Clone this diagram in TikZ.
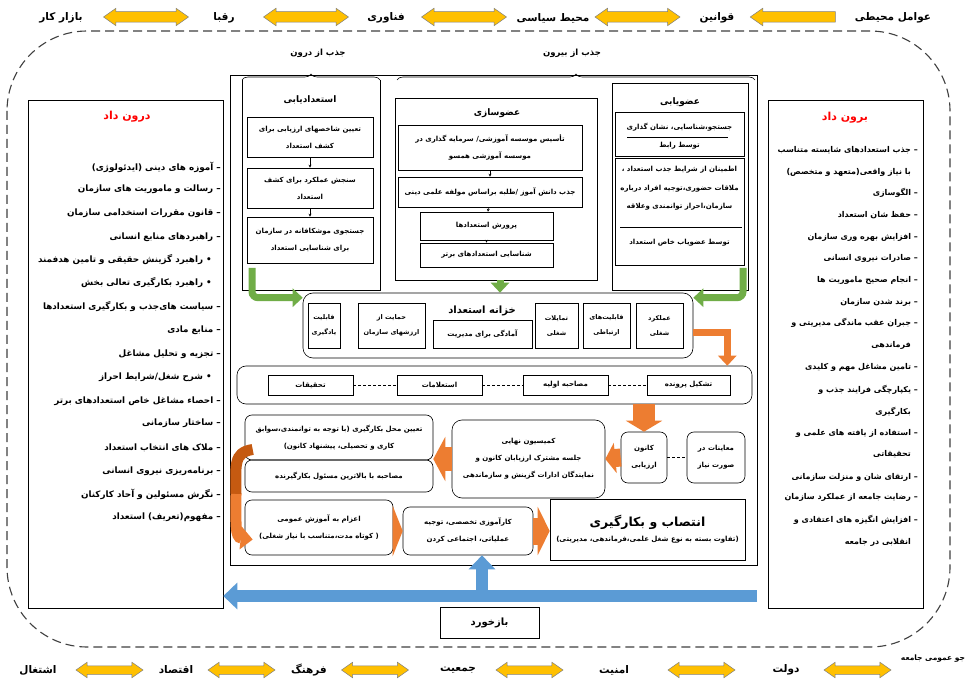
\documentclass[tikz,border=0pt]{standalone}
\usepackage{fontspec}
\newfontfamily\arabicfont[Script=Arabic]{DejaVu Sans}
\TeXXeTstate=1
\usetikzlibrary{shapes}
\usetikzlibrary{shapes.arrows}
\usetikzlibrary{arrows.meta}
\usetikzlibrary{decorations.pathreplacing}

\definecolor{gold}{HTML}{FFC000}
\definecolor{leafgreen}{HTML}{70AD47}
\definecolor{tangerine}{HTML}{ED7D31}
\definecolor{rust}{HTML}{C55A11}
\definecolor{skyblue}{HTML}{5B9BD5}
\definecolor{titlered}{HTML}{FF0000}
\definecolor{dashgray}{HTML}{404040}

\newcommand{\fa}[1]{{\arabicfont\bfseries\beginR #1\endR}}

\tikzset{
	box/.style={draw,line width=0.6pt,inner sep=0pt,align=center,font=\fontsize{7}{17}\selectfont},
	rbox/.style={box,rounded corners=7pt},
	txt/.style={inner sep=0pt,align=center,font=\fontsize{7}{18.5}\selectfont},
	item/.style={anchor=east,inner sep=0pt,font=\fontsize{8.8}{10}\selectfont},
	outitem/.style={item,font=\fontsize{8}{10}\selectfont},
	envtext/.style={inner sep=0pt,font=\fontsize{10.5}{12}\selectfont},
	envarrow/.style={double arrow,draw=gray,fill=gold,line width=0.5pt,inner xsep=0pt,inner ysep=5pt,minimum height=85pt,minimum width=17pt,double arrow head extend=3.5pt,double arrow tip angle=70},
	leftarrow/.style={single arrow,draw=gray,fill=gold,line width=0.5pt,inner xsep=0pt,inner ysep=5pt,minimum height=85pt,minimum width=17pt,single arrow head extend=3.5pt,single arrow tip angle=70,shape border rotate=180},
	socarrow/.style={envarrow,inner ysep=4pt,minimum height=67pt,minimum width=15pt},
	greenarrow/.style={draw=leafgreen,line width=7pt,rounded corners=6pt,-{Triangle[width=18pt,length=10pt]}},
	orangearrow/.style={draw=tangerine,line width=7pt,-{Triangle[width=18pt,length=10pt]}},
	blockarrow/.style={draw=tangerine,line width=22pt,-{Triangle[width=36pt,length=11pt]}},
	curvearrow/.style={draw=tangerine,line width=11pt,-{Triangle[width=22pt,length=12pt]}},
	bluearrow/.style={draw=skyblue,line width=12pt,-{Triangle[width=26pt,length=14pt]}},
	flowarrow/.style={-{Stealth[length=3pt,width=3pt]},line width=0.5pt},
	link/.style={densely dashed,line width=0.5pt}
}

\begin{document}
\begin{tikzpicture}[x=1pt,y=-1pt]
	\useasboundingbox (0,0) rectangle (966,684);
	\fill[white] (0,0) rectangle (966,684);

	\node[envtext] (t1) at (893,18) {\fa{عوامل محیطی}};
	\node[leftarrow] (ta5) at (796.5,17) {};
	\node[envtext] (t2) at (717,18) {\fa{قوانین}};
	\node[envarrow] (ta4) at (637.5,17) {};
	\node[envtext] (t3) at (553,18) {\fa{محیط سیاسی}};
	\node[envarrow] (ta3) at (464,17) {};
	\node[envtext] (t4) at (386,18) {\fa{فناوری}};
	\node[envarrow] (ta2) at (306,17) {};
	\node[envtext] (t5) at (224,18) {\fa{رقبا}};
	\node[envarrow] (ta1) at (146,17) {};
	\node[envtext] (t6) at (61,18) {\fa{بازار کار}};

	\draw[dashgray,line width=1.1pt,dash pattern=on 9pt off 5pt,rounded corners=80pt] (7,31) rectangle (950,647);

	\node[box,minimum width=195,minimum height=508] (darun) at (125.5,354) {};
	\node[txt,font=\fontsize{11}{13}\selectfont,text=titlered] (daruntitle) at (127,117) {\fa{درون داد}};
	\node[item] (d1) at (221,167) {\fa{– آموزه های دینی (ایدئولوژی)}};
	\node[item] (d2) at (221,189) {\fa{– رسالت و ماموریت های سازمان}};
	\node[item] (d3) at (221,213) {\fa{– قانون مقررات استخدامی سازمان}};
	\node[item] (d4) at (221,237) {\fa{– راهبردهای منابع انسانی}};
	\node[item] (d5) at (212,260) {\fa{• راهبرد گزینش حقیقی و تامین هدفمند}};
	\node[item] (d6) at (212,283) {\fa{• راهبرد بکارگیری تعالی بخش}};
	\node[item] (d7) at (221,307) {\fa{– سیاست های^^^^200cجذب و بکارگیری استعدادها}};
	\node[item] (d8) at (221,330) {\fa{– منابع مادی}};
	\node[item] (d9) at (221,354) {\fa{– تجزیه و تحلیل مشاغل}};
	\node[item] (d10) at (212,377) {\fa{• شرح شغل/شرایط احراز}};
	\node[item] (d11) at (221,401) {\fa{– احصاء مشاغل خاص استعدادهای برتر}};
	\node[item] (d12) at (221,423) {\fa{– ساختار سازمانی}};
	\node[item] (d13) at (221,448) {\fa{– ملاک های انتخاب استعداد}};
	\node[item] (d14) at (221,471) {\fa{– برنامه^^^^200cریزی نیروی انسانی}};
	\node[item] (d15) at (221,494) {\fa{– نگرش مسئولین و آحاد کارکنان}};
	\node[item] (d16) at (221,517) {\fa{– مفهوم(تعریف) استعداد}};

	\node[box,minimum width=155,minimum height=508] (borun) at (845.5,354) {};
	\node[txt,font=\fontsize{11}{13}\selectfont,text=titlered] (boruntitle) at (845,118) {\fa{برون داد}};
	\node[outitem] (o1) at (918,150) {\fa{– جذب استعدادهای شایسته متناسب}};
	\node[outitem] (o1b) at (911,172) {\fa{با نیاز واقعی(متعهد و متخصص)}};
	\node[outitem] (o2) at (918,193) {\fa{– الگوسازی}};
	\node[outitem] (o3) at (918,215) {\fa{– حفظ شان استعداد}};
	\node[outitem] (o4) at (918,237) {\fa{– افزایش بهره وری سازمان}};
	\node[outitem] (o5) at (918,258) {\fa{– صادرات نیروی انسانی}};
	\node[outitem] (o6) at (918,280) {\fa{– انجام صحیح ماموریت ها}};
	\node[outitem] (o7) at (918,302) {\fa{– برند شدن سازمان}};
	\node[outitem] (o8) at (918,323) {\fa{– جبران عقب ماندگی مدیریتی و}};
	\node[outitem] (o8b) at (911,345) {\fa{فرماندهی}};
	\node[outitem] (o9) at (918,367) {\fa{– تامین مشاغل مهم و کلیدی}};
	\node[outitem] (o10) at (918,390) {\fa{– یکپارچگی فرایند جذب و}};
	\node[outitem] (o10b) at (911,412) {\fa{بکارگیری}};
	\node[outitem] (o11) at (918,433) {\fa{– استفاده از یافته های علمی و}};
	\node[outitem] (o11b) at (911,454) {\fa{تحقیقاتی}};
	\node[outitem] (o12) at (918,477) {\fa{– ارتقای شان و منزلت سازمانی}};
	\node[outitem] (o13) at (918,497) {\fa{– رضایت جامعه از عملکرد سازمان}};
	\node[outitem] (o14) at (918,520) {\fa{– افزایش انگیزه های اعتقادی و}};
	\node[outitem] (o14b) at (911,542) {\fa{انقلابی در جامعه}};

	\node[box,minimum width=527,minimum height=490] (core) at (493.5,320) {};
	\node[txt,font=\fontsize{8.5}{10}\selectfont] (inner) at (318,53) {\fa{جذب از درون}};
	\node[txt,font=\fontsize{8.5}{10}\selectfont] (outer) at (572,53) {\fa{جذب از بیرون}};
	\draw[decorate,decoration={brace,amplitude=6pt},line width=0.6pt] (242,80) -- (380,80);
	\draw[decorate,decoration={brace,amplitude=6pt},line width=0.6pt] (397,80) -- (755,80);
	\draw[line width=0.6pt] (242,80) -- (242,290) -- (380,290) -- (380,80);

	\node[txt,font=\fontsize{9}{10}\selectfont] (esttitle) at (310,100) {\fa{استعدادیابی}};
	\node[box,minimum width=126,minimum height=40] (e1) at (310,137) {\fa{تعیین شاخصهای ارزیابی برای}\\\fa{کشف استعداد}};
	\node[box,minimum width=126,minimum height=40] (e2) at (310,188) {\fa{سنجش عملکرد برای کشف}\\\fa{استعداد}};
	\node[box,minimum width=126,minimum height=46] (e3) at (310,240) {\fa{جستجوی موشکافانه در سازمان}\\\fa{برای شناسایی استعداد}};
	\draw[flowarrow] (e1) -- (e2);
	\draw[flowarrow] (e2) -- (e3);

	\node[box,minimum width=202,minimum height=182] (ozvsazi) at (496,189) {};
	\node[txt,font=\fontsize{9}{10}\selectfont] (ozvtitle) at (497,113) {\fa{عضوسازی}};
	\node[box,minimum width=184,minimum height=45] (s1) at (490,147.5) {\fa{تأسیس موسسه آموزشی/ سرمایه گذاری در}\\\fa{موسسه آموزشی همسو}};
	\node[box,minimum width=184,minimum height=30] (s2) at (490,192) {\fa{جذب دانش آموز /طلبه براساس مولفه علمی دینی}};
	\node[box,minimum width=133,minimum height=28] (s3) at (486.5,226) {\fa{پرورش استعدادها}};
	\node[box,minimum width=133,minimum height=24] (s4) at (486.5,255) {\fa{شناسایی استعدادهای برتر}};
	\draw[flowarrow] (s1) -- (s2);
	\draw[flowarrow] (s2) -- (s3);
	\draw[flowarrow] (s3) -- (s4);

	\node[box,minimum width=136,minimum height=207] (ozvyabi) at (680,186.5) {};
	\node[txt,font=\fontsize{9}{10}\selectfont] (yabtitle) at (680,102) {\fa{عضویابی}};
	\node[box,minimum width=129,minimum height=44] (f1) at (679.5,134) {};
	\node[txt] (f1a) at (679.5,127) {\fa{جستجو،شناسایی، نشان گذاری}};
	\node[txt] (f1b) at (679.5,146) {\fa{توسط رابط}};
	\draw[line width=0.6pt] (627,137) -- (728,137);
	\node[box,minimum width=129,minimum height=107] (f2) at (679.5,211.5) {};
	\node[txt] (f2a) at (679.5,188.5) {\fa{اطمینان از شرایط جذب استعداد ،}\\\fa{ملاقات حضوری،توجیه افراد درباره}\\\fa{سازمان،احراز توانمندی وعلاقه}};
	\draw[line width=0.6pt] (620,227) -- (742,227);
	\node[txt] (f2b) at (679.5,243) {\fa{توسط عضویاب خاص استعداد}};

	\node[rbox,minimum width=390,minimum height=65,rounded corners=10pt] (khazane) at (498,325.5) {};
	\node[txt,font=\fontsize{10}{12}\selectfont] (khtitle) at (482,311) {\fa{خزانه استعداد}};
	\node[box,minimum width=32,minimum height=45,font=\fontsize{6.5}{15}\selectfont] (k1) at (324,325.5) {\fa{قابلیت}\\\fa{یادگیری}};
	\node[box,minimum width=67,minimum height=45,font=\fontsize{6.5}{15}\selectfont] (k2) at (391.5,325.5) {\fa{حمایت از}\\\fa{ارزشهای سازمان}};
	\node[box,minimum width=99,minimum height=28] (k3) at (482.5,334) {\fa{آمادگی برای مدیریت}};
	\node[box,minimum width=43,minimum height=45,font=\fontsize{6.5}{15}\selectfont] (k4) at (556.5,325.5) {\fa{تمایلات}\\\fa{شغلی}};
	\node[box,minimum width=47,minimum height=45,font=\fontsize{6.5}{15}\selectfont] (k5) at (606.5,325.5) {\fa{قابلیت^^^^200cهای}\\\fa{ارتباطی}};
	\node[box,minimum width=47,minimum height=45,font=\fontsize{6.5}{15}\selectfont] (k6) at (659.5,325.5) {\fa{عملکرد}\\\fa{شغلی}};

	\draw[greenarrow] (252,268) |- ([yshift=-5pt]khazane.north west);
	\draw[greenarrow] (ozvsazi.south -| 500,0) -- (khazane.north -| 500,0);
	\draw[greenarrow] (743,268) |- ([yshift=-5pt]khazane.north east);

	\node[rbox,minimum width=515,minimum height=38,rounded corners=9pt] (row) at (494.5,385) {};
	\node[box,minimum width=85,minimum height=20] (r1) at (310.5,385) {\fa{تحقیقات}};
	\node[box,minimum width=85,minimum height=20] (r2) at (439.5,385) {\fa{استعلامات}};
	\node[box,minimum width=85,minimum height=20] (r3) at (565.5,385) {\fa{مصاحبه اولیه}};
	\node[box,minimum width=83,minimum height=20] (r4) at (688.5,385) {\fa{تشکیل پرونده}};
	\draw[link] (r1) -- (r2);
	\draw[link] (r2) -- (r3);
	\draw[link] (r3) -- (r4);
	\draw[orangearrow] ([yshift=-7pt]khazane.east) -| ([xshift=-25pt]row.north east);

	\node[rbox,minimum width=58,minimum height=51] (moayene) at (716,457.5) {\fa{معاینات در}\\\fa{صورت نیاز}};
	\node[rbox,minimum width=46,minimum height=51] (kanun) at (644,457.5) {\fa{کانون}\\\fa{ارزیابی}};
	\draw[link] (kanun) -- (moayene);
	\draw[blockarrow] (row.south -| kanun) -- (kanun.north);
	\node[rbox,minimum width=153,minimum height=78,rounded corners=10pt] (komision) at (528.5,459) {\fa{کمیسیون نهایی}\\\fa{جلسه مشترک ارزیابان کانون و}\\\fa{نمایندگان ادارات گزینش و سازماندهی}};
	\draw[blockarrow,line width=18pt,-{Triangle[width=30pt,length=10pt]}] (kanun.west) -- (komision.east);
	\node[rbox,minimum width=188,minimum height=45] (tayin) at (339,437.5) {\fa{تعیین محل بکارگیری (با توجه به توانمندی،سوابق}\\\fa{کاری و تحصیلی، پیشنهاد کانون)}};
	\node[rbox,minimum width=188,minimum height=32] (mosahebe) at (339,476) {\fa{مصاحبه با بالاترین مسئول بکارگیرنده}};
	\draw[blockarrow,line width=24pt,-{Triangle[width=44pt,length=12pt]}] (komision.west) -- (komision.west -| tayin.east);
	\node[rbox,minimum width=148,minimum height=55] (ezam) at (319,527.5) {\fa{اعزام به آموزش عمومی}\\\fa{( کوتاه مدت،متناسب با نیاز شغلی)}};
	\node[rbox,minimum width=130,minimum height=48] (karamuz) at (468,531) {\fa{کارآموزی تخصصی، توجیه}\\\fa{عملیاتی، اجتماعی کردن}};
	\node[box,minimum width=195,minimum height=61] (entesab) at (647.5,529.5) {{\fontsize{12.5}{14}\selectfont\fa{انتصاب و بکارگیری}}\\[-2pt]\fa{(تفاوت بسته به نوع شغل علمی،فرماندهی، مدیریتی)}};
	\coordinate (bend) at (236,494);
	\draw[draw=rust,line width=11pt] ([xshift=8pt,yshift=-12pt]tayin.west) .. controls +(-20,3) and +(0,-28) .. (bend);
	\draw[curvearrow] (bend) .. controls +(0,28) and +(-18,-2) .. ([xshift=8pt,yshift=-12pt]ezam.west);
	\draw[blockarrow,line width=34pt,-{Triangle[width=50pt,length=10pt]}] (ezam.east |- karamuz) -- (karamuz.west);
	\draw[blockarrow,line width=27pt,-{Triangle[width=48pt,length=12pt]}] (karamuz.east) -- (entesab.west |- karamuz);

	\coordinate (fbstart) at (757,596);
	\coordinate (fbjoin) at (482,602);
	\draw[bluearrow] (fbstart) -- (darun.east |- fbstart);
	\draw[bluearrow] (fbjoin) -- (karamuz.south -| fbjoin);
	\node[box,minimum width=99,minimum height=31,font=\fontsize{10}{12}\selectfont] (feedback) at (489.5,622.5) {\fa{بازخورد}};

	\node[envtext,font=\fontsize{7.5}{9}\selectfont] (b1) at (933,659) {\fa{جو عمومی جامعه}};
	\node[socarrow] (ba6) at (857.5,670) {};
	\node[envtext] (b2) at (786,670) {\fa{دولت}};
	\node[socarrow] (ba5) at (701.5,670) {};
	\node[envtext] (b3) at (614,670) {\fa{امنیت}};
	\node[socarrow] (ba4) at (529.5,670) {};
	\node[envtext] (b4) at (458,670) {\fa{جمعیت}};
	\node[socarrow] (ba3) at (375,670) {};
	\node[envtext] (b5) at (309,670) {\fa{فرهنگ}};
	\node[socarrow] (ba2) at (241.5,670) {};
	\node[envtext] (b6) at (176,670) {\fa{اقتصاد}};
	\node[socarrow] (ba1) at (109.5,670) {};
	\node[envtext] (b7) at (38,670) {\fa{اشتغال}};
\end{tikzpicture}
\end{document}
